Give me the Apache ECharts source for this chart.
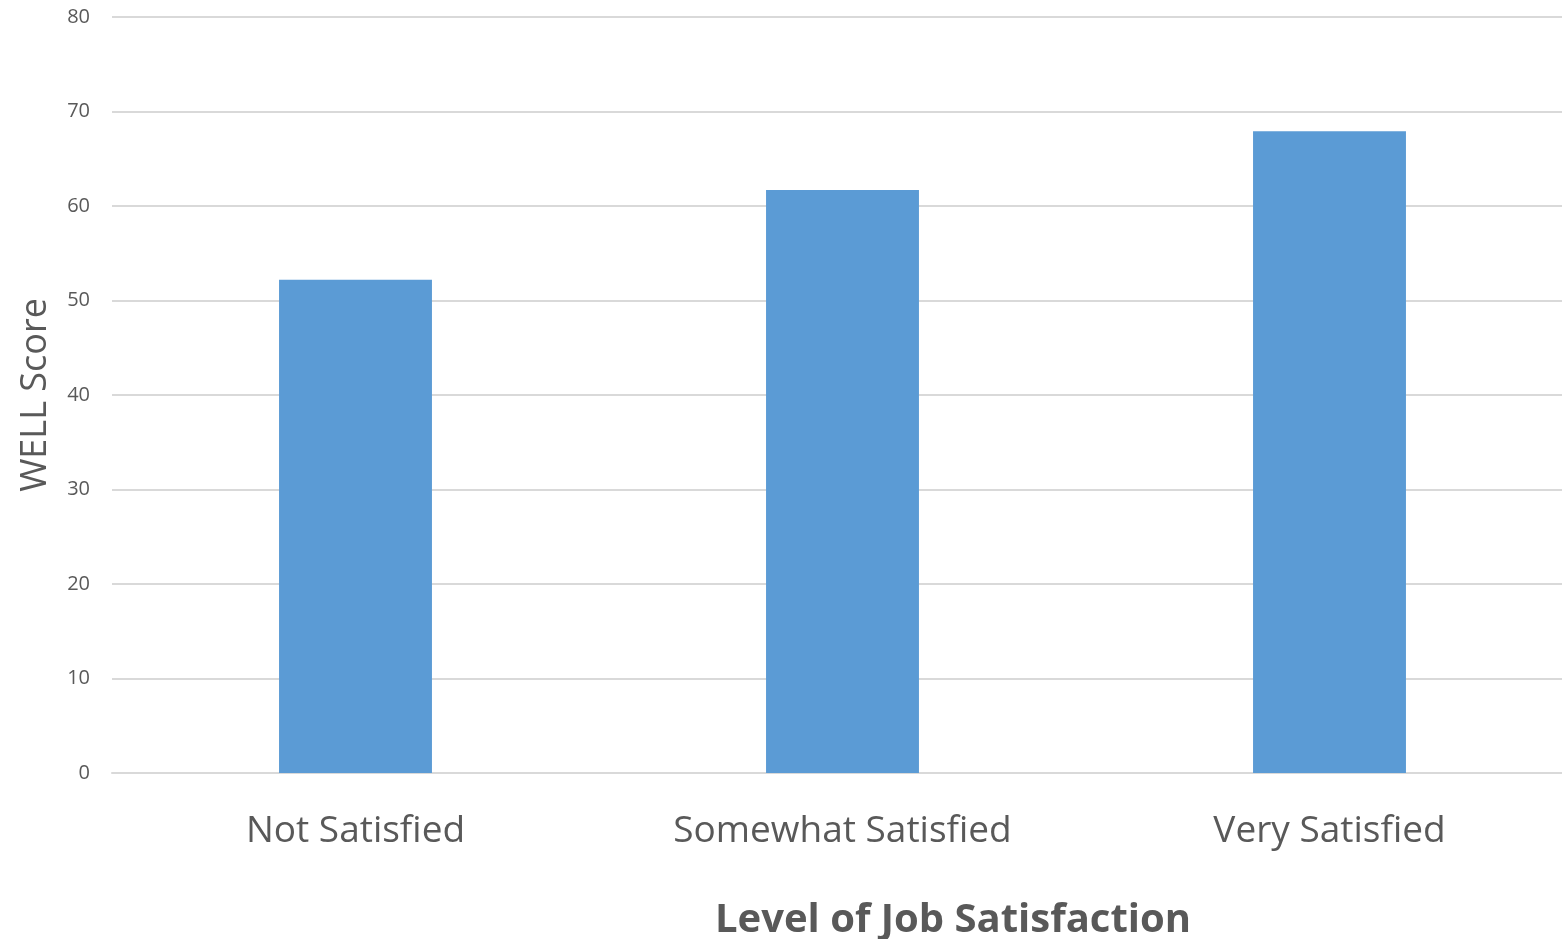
<!DOCTYPE html>
<html>
<head>
<meta charset="utf-8">
<script src="https://cdn.jsdelivr.net/npm/echarts@6/dist/echarts.min.js"></script>
<style>
html,body{margin:0;padding:0;background:#fff;}
#chart{width:1562px;height:939px;}
</style>
</head>
<body>
<div id="chart"></div>
<script>
const categories = ['Not Satisfied', 'Somewhat Satisfied', 'Very Satisfied'];
const wellScores = [52.2, 61.7, 67.9];
const yTicks = { min: 0, max: 80, interval: 10 };
const xTitle = 'Level of Job Satisfaction';
const yTitle = 'WELL Score';

const chart = echarts.init(document.getElementById('chart'));
const font = '"Open Sans", sans-serif';
chart.setOption({
  animation: false,
  backgroundColor: '#ffffff',
  grid: { left: 112, width: 1461, top: 17, height: 756, containLabel: false, outerBoundsMode: 'none' },
  title: {
    text: xTitle,
    left: 948, top: 896,
    textAlign: 'center',
    textStyle: { fontFamily: font, fontSize: 40, fontWeight: 'bold', color: '#595959' }
  },
  xAxis: {
    type: 'category',
    data: categories,
    axisLine: { show: true, lineStyle: { color: '#d9d9d9', width: 2 } },
    axisTick: { show: false },
    axisLabel: { fontFamily: font, fontSize: 37, color: '#595959', margin: 40 }
  },
  yAxis: {
    type: 'value',
    min: yTicks.min, max: yTicks.max, interval: yTicks.interval,
    name: yTitle,
    nameLocation: 'middle',
    nameRotate: 90,
    nameGap: 58,
    nameTextStyle: { fontFamily: font, fontSize: 36, color: '#595959' },
    axisLine: { show: false },
    axisTick: { show: false },
    splitLine: { lineStyle: { color: '#d9d9d9', width: 2 } },
    axisLabel: { fontFamily: font, fontSize: 20, color: '#595959', margin: 22 }
  },
  series: [{
    type: 'bar',
    data: wellScores,
    barWidth: '31.4%',
    itemStyle: { color: '#5b9bd5' }
  }]
});
</script>
</body>
</html>
